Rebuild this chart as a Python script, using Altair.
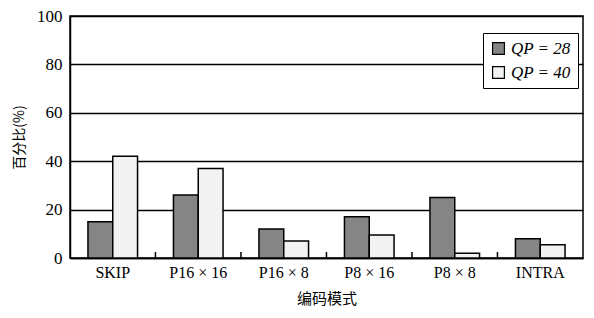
import altair as alt
import pandas as pd

categories = ["SKIP", "P16 × 16", "P16 × 8", "P8 × 16", "P8 × 8", "INTRA"]
qp28 = [15, 26, 12, 17, 25, 8]
qp40 = [42, 37, 7, 9.5, 2, 5.5]
series = ["QP = 28", "QP = 40"]

rows = []
for c, a, b in zip(categories, qp28, qp40):
    rows.append({"cat": c, "s": series[0], "v": a})
    rows.append({"cat": c, "s": series[1], "v": b})
df = pd.DataFrame(rows)

serif = "Liberation Serif"
cjk = "Noto Sans CJK SC"

xscale = alt.Scale(domain=categories, paddingInner=0.42, paddingOuter=0.21)
yscale = alt.Scale(domain=[0, 100])

bars = alt.Chart(df).mark_bar(stroke="black", strokeWidth=1.5).encode(
    x=alt.X("cat:N", scale=xscale, sort=categories,
            axis=alt.Axis(title="编码模式", labelAngle=0, ticks=False, domain=True,
                          labelFont=serif, labelFontSize=16, labelColor="black",
                          titleFont=cjk, titleFontSize=15, titleFontWeight="normal",
                          titleColor="black", labelPadding=6, titlePadding=11,
                          domainColor="black", domainWidth=1.5)),
    xOffset=alt.XOffset("s:N", sort=series, scale=alt.Scale(paddingInner=0, paddingOuter=0)),
    y=alt.Y("v:Q", scale=yscale,
            axis=alt.Axis(title="百分比(%)", values=[0, 20, 40, 60, 80, 100], ticks=False,
                          grid=True, gridColor="black", gridWidth=1.4,
                          labelFont=serif, labelFontSize=17, labelColor="black",
                          titleFont=cjk, titleFontSize=14, titleFontWeight="normal",
                          titleColor="black", labelPadding=8, titlePadding=10,
                          domainColor="black", domainWidth=1.5)),
    color=alt.Color("s:N", sort=series,
                    scale=alt.Scale(domain=series, range=["#858585", "#f2f2f2"]),
                    legend=alt.Legend(title=None, orient="none", legendX=413, legendY=17,
                                      fillColor="white", strokeColor="black",
                                      padding=7, symbolType="square", symbolSize=140,
                                      symbolStrokeColor="black", symbolStrokeWidth=1.2,
                                      labelFont=serif, labelFontSize=17, labelColor="black",
                                      labelFontStyle="italic", rowPadding=6)),
)

tick_df = pd.DataFrame({"cat": categories[1:], "lo": [0] * 5, "hi": [2.5] * 5})
ticks = alt.Chart(tick_df).mark_rule(color="black", strokeWidth=1.5, xOffset=-18).encode(
    x=alt.X("cat:N", scale=xscale, sort=categories, bandPosition=0),
    y=alt.Y("lo:Q", scale=yscale),
    y2="hi:Q",
)

chart = alt.layer(bars, ticks).properties(
    width=513, height=242,
    autosize=alt.AutoSizeParams(type="none"),
    padding={"left": 62, "top": 8, "right": 3, "bottom": 52},
).configure_view(stroke="black", strokeWidth=1.5)

chart.save("out.html", embed_options={"renderer": "svg", "actions": False})
